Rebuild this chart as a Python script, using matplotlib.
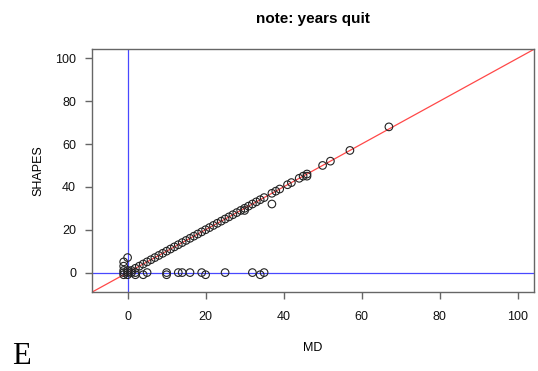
import matplotlib
matplotlib.use("Agg")
import matplotlib.pyplot as plt

# points lying on (or close to) the diagonal
diag_md = [0, 1, 2, 3, 4, 5, 6, 7, 8, 9, 10, 11, 12, 13, 14, 15, 16, 17, 18,
           19, 20, 21, 22, 23, 24, 25, 26, 27, 28, 29, 30, 30, 31, 32, 33, 34,
           35, 37, 38, 39, 41, 42, 44, 45, 46, 46, 50, 52, 57, 67]
diag_shapes = [0, 1, 2, 3, 4, 5, 6, 7, 8, 9, 10, 11, 12, 13, 14, 15, 16, 17, 18,
               19, 20, 21, 22, 23, 24, 25, 26, 27, 28, 29, 29, 30, 31, 32, 33, 34,
               35, 37, 38, 39, 41, 42, 44, 45, 45, 46, 50, 52, 57, 68]

# points off the diagonal
off_md = [0, -1, -1, -1, -1, -1, 0, 1, 2, 0, 2, 4, 5, 10, 10, 13, 14, 16, 19,
          20, 25, 32, 34, 35, 37]
off_shapes = [7, 5, 3, 1, 0, -1, -1, 0, -1, 1, 0, -1, 0, 0, -1, 0, 0, 0, 0,
              -1, 0, 0, -1, 0, 32]

x_ticks = [0, 20, 40, 60, 80, 100]
y_ticks = [0, 20, 40, 60, 80, 100]
lims = (-9.2, 104.2)

W, H = 538, 371
fig = plt.figure(figsize=(W / 100, H / 100), dpi=100)
ax = fig.add_axes([91.7 / W, 1 - 292.3 / H, (534 - 91.7) / W, (292.3 - 49.3) / H])

ax.axline((0, 0), slope=1, color="#ff4848", lw=0.9, zorder=1)
ax.axhline(0, color="#4848ff", lw=0.9, zorder=1)
ax.axvline(0, color="#4848ff", lw=0.9, zorder=1)

ax.scatter(diag_md + off_md, diag_shapes + off_shapes, s=30, facecolors="none",
           edgecolors="#222222", linewidths=0.8, zorder=2)

ax.set_xlim(lims)
ax.set_ylim(lims)
ax.set_xticks(x_ticks)
ax.set_yticks(y_ticks)
for s in ax.spines.values():
    s.set_color("#666666")
    s.set_linewidth(1.0)
ax.tick_params(axis="both", colors="#666666", length=5.3, width=1.0,
               labelsize=9, labelcolor="#111111")
ax.tick_params(axis="x", pad=8.5)
ax.tick_params(axis="y", pad=6)
for lab in ax.get_xticklabels() + ax.get_yticklabels():
    lab.set_fontfamily("Liberation Sans")

cx = (91.7 + 534) / 2 / W
fig.text(cx, 1 - 19 / H, "note: years quit", ha="center", va="center",
         fontsize=11, fontweight="bold", family="Liberation Sans")
fig.text(cx, 1 - 348 / H, "MD", ha="center", va="center",
         fontsize=9, family="Liberation Sans")
fig.text(38 / W, 1 - 171 / H, "SHAPES", ha="center", va="center",
         rotation=90, fontsize=9, family="Liberation Sans")
fig.text(12 / W, 7 / H, "E", ha="left", va="baseline",
         fontsize=22, family="Liberation Serif")

fig.savefig("out.png", dpi=100)
